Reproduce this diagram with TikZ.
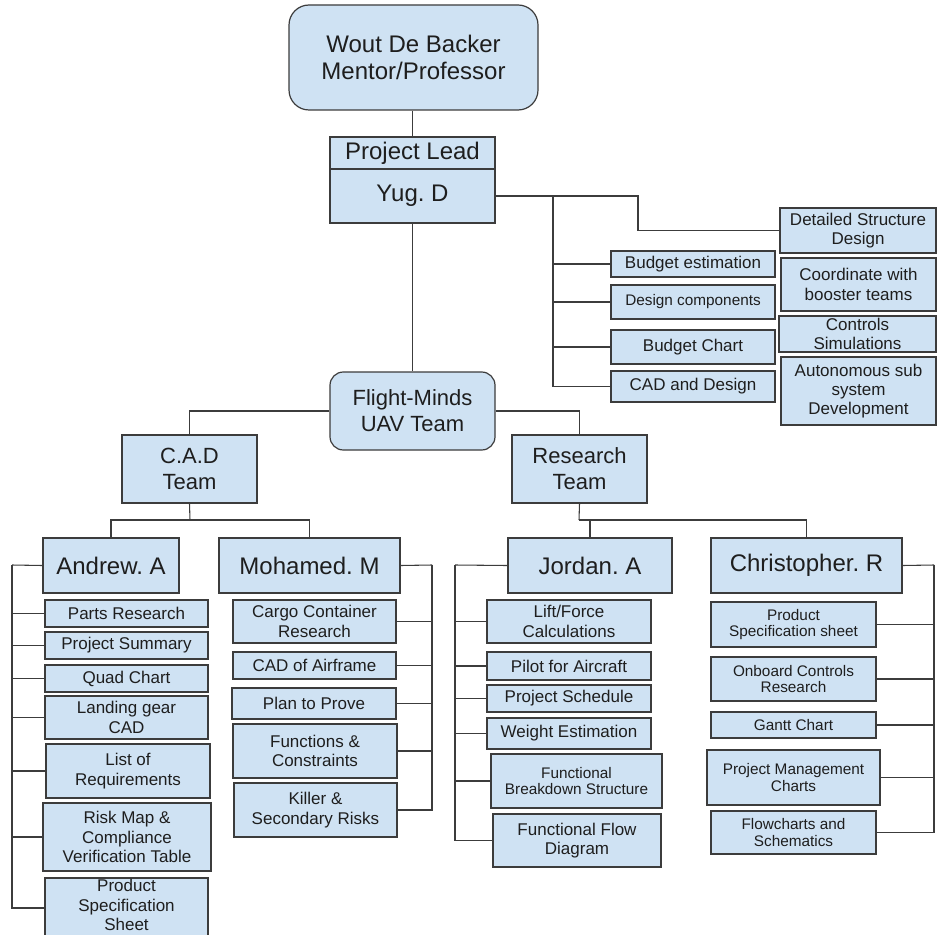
\documentclass[tikz,border=0pt]{standalone}
\usepackage{fontspec}
\setmainfont{Liberation Sans}
\frenchspacing
\definecolor{boxfill}{HTML}{CFE2F3}
\definecolor{boxline}{HTML}{3C3C3C}
\definecolor{txt}{HTML}{1E1E1E}
\tikzset{
  at box/.style n args={4}{minimum width={(#3-#1)*0.75pt}, minimum height={(#4-#2)*0.75pt}, at={({(#1+#3)/2},{(#2+#4)/2})}},
  bx/.style={draw=boxline, fill=boxfill, line width=0.9pt, inner sep=0pt, align=center, text=txt},
  big/.style={bx, font=\fontsize{18}{20.25}\selectfont},
  team/.style={bx, font=\fontsize{16.5}{19.5}\selectfont},
  sm/.style={bx, font=\fontsize{12.75}{14.5}\selectfont},
  xs/.style={bx, font=\fontsize{11.5}{12.5}\selectfont},
  conn/.style={draw=boxline, line width=0.8pt}
}
\begin{document}
\begin{tikzpicture}[x=0.75pt,y=-0.75pt]
\useasboundingbox (0,0) rectangle (937,934);
\clip (0,0) rectangle (937,934);
\fill[white] (0,0) rectangle (937,934);
% top
\node[big, rounded corners=15pt, at box={289}{5}{538}{110}] (wout) {Wout De Backer\\Mentor/Professor};
\node[big, at box={330}{137}{495}{169}] (lead) {Project Lead};
\node[big, at box={330}{169}{495}{223}] (yug) {Yug. D};
% right side
\node[sm, at box={780}{208}{936}{253}] (det) {Detailed Structure\\Design};
\node[sm, at box={781}{258}{936}{311}] (coord) {Coordinate with\\booster teams};
\node[sm, at box={779}{316}{936}{352}] (ctrl) {Controls\\Simulations};
\node[sm, at box={781}{357}{936}{425}] (auto) {Autonomous sub\\system\\Development};
\node[sm, at box={611}{251}{775}{277}] (bud) {Budget estimation};
\node[xs, at box={611}{285}{775}{319}] (dc) {Design components};
\node[sm, at box={611}{330}{775}{364}] (bc) {Budget Chart};
\node[sm, at box={611}{371}{775}{402}] (cadd) {CAD and Design};
% middle
\node[team, rounded corners=10pt, at box={330}{372}{495}{450}] (fm) {Flight-Minds\\UAV Team};
\node[team, at box={122}{435}{257}{503}] (cad) {C.A.D\\Team};
\node[team, at box={512}{435}{647}{503}] (res) {Research\\Team};
% people
\node[big, at box={43}{538}{179}{593}] (and) {Andrew. A};
\node[big, at box={219}{538}{400}{593}] (moh) {Mohamed. M};
\node[big, at box={508}{538}{672}{593}] (jor) {Jordan. A};
\node[big, at box={711}{538}{902}{593}] (chr) {Christopher. R};
% Andrew tasks
\node[sm, at box={45}{600}{208}{627}] (a1) {Parts Research};
\node[sm, at box={45}{632}{208}{659}] (a2) {Project Summary};
\node[sm, at box={45}{665}{208}{692}] (a3) {Quad Chart};
\node[sm, at box={45}{696}{208}{739}] (a4) {Landing gear\\CAD};
\node[sm, at box={46}{744}{210}{798}] (a5) {List of\\Requirements};
\node[sm, at box={43}{803}{211}{871}] (a6) {Risk Map \&\\Compliance\\Verification Table};
\node[sm, at box={45}{878}{208}{938}] (a7) {};
\node[sm, draw=none, fill=none, at={(126.5,905)}] (a7t) {Product\\Specification\\Sheet};
% Mohamed tasks
\node[sm, at box={233}{600}{396}{643}] (m1) {Cargo Container\\Research};
\node[sm, at box={233}{652}{396}{679}] (m2) {CAD of Airframe};
\node[sm, at box={232}{688}{396}{719}] (m3) {Plan to Prove};
\node[sm, at box={233}{724}{397}{778}] (m4) {Functions \&\\Constraints};
\node[sm, at box={234}{783}{397}{837}] (m5) {Killer \&\\Secondary Risks};
% Jordan tasks
\node[sm, at box={487}{600}{651}{643}] (j1) {Lift/Force\\Calculations};
\node[sm, at box={487}{652}{651}{680}] (j2) {Pilot for Aircraft};
\node[sm, at box={487}{685}{651}{712}] (j3) {Project Schedule};
\node[sm, at box={487}{718}{651}{749}] (j4) {Weight Estimation};
\node[xs, at box={491}{754}{662}{808}] (j5) {Functional\\Breakdown Structure};
\node[sm, at box={493}{814}{661}{867}] (j6) {Functional Flow\\Diagram};
% Christopher tasks
\node[xs, at box={711}{602}{876}{647}] (c1) {Product\\Specification sheet};
\node[xs, at box={711}{657}{876}{701}] (c2) {Onboard Controls\\Research};
\node[xs, at box={711}{712}{876}{738}] (c3) {Gantt Chart};
\node[xs, at box={707}{750}{880}{805}] (c4) {Project Management\\Charts};
\node[xs, at box={711}{811}{876}{854}] (c5) {Flowcharts and\\Schematics};
% connectors
\draw[conn] (wout.south -| lead.north) -- (lead.north);
\coordinate (yb) at (553,196);
\coordinate (yd) at (638,196);
\draw[conn] (yug.east) -- (yd) |- (det.west);
\foreach \n in {bud,dc,bc,cadd} \draw[conn] (yb) |- (\n.west);
\draw[conn] (yug.south) -- (fm.north);
\draw[conn] (fm.west) -| (cad.north);
\draw[conn] (fm.east) -| (res.north);
\coordinate (cb) at (190,520);
\draw[conn] (cad.south) -- (cb);
\draw[conn] (cb) -| (and.north);
\draw[conn] (cb) -| (moh.north);
\coordinate (rb) at (579,520);
\draw[conn] (res.south) -- (rb);
\draw[conn] (rb) -| (jor.north);
\draw[conn] (rb) -| (chr.north);
% Andrew bus
\coordinate (ab) at (12,565);
\draw[conn] (and.west) -- (ab);
\foreach \n in {a1,a2,a3,a4,a5,a6,a7} \draw[conn] (ab) |- (\n.west);
% Mohamed bus
\coordinate (mb) at (432,565);
\draw[conn] (moh.east) -- (mb);
\foreach \n in {m1,m2,m3,m4,m5} \draw[conn] (mb) |- (\n.east);
% Jordan bus
\coordinate (jb) at (455,565);
\draw[conn] (jor.west) -- (jb);
\foreach \n in {j1,j2,j3,j4,j5,j6} \draw[conn] (jb) |- (\n.west);
% Christopher bus
\coordinate (chb) at (934,565);
\draw[conn] (chr.east) -- (chb);
\foreach \n in {c1,c2,c3,c4,c5} \draw[conn] (chb) |- (\n.east);
\end{tikzpicture}
\end{document}
